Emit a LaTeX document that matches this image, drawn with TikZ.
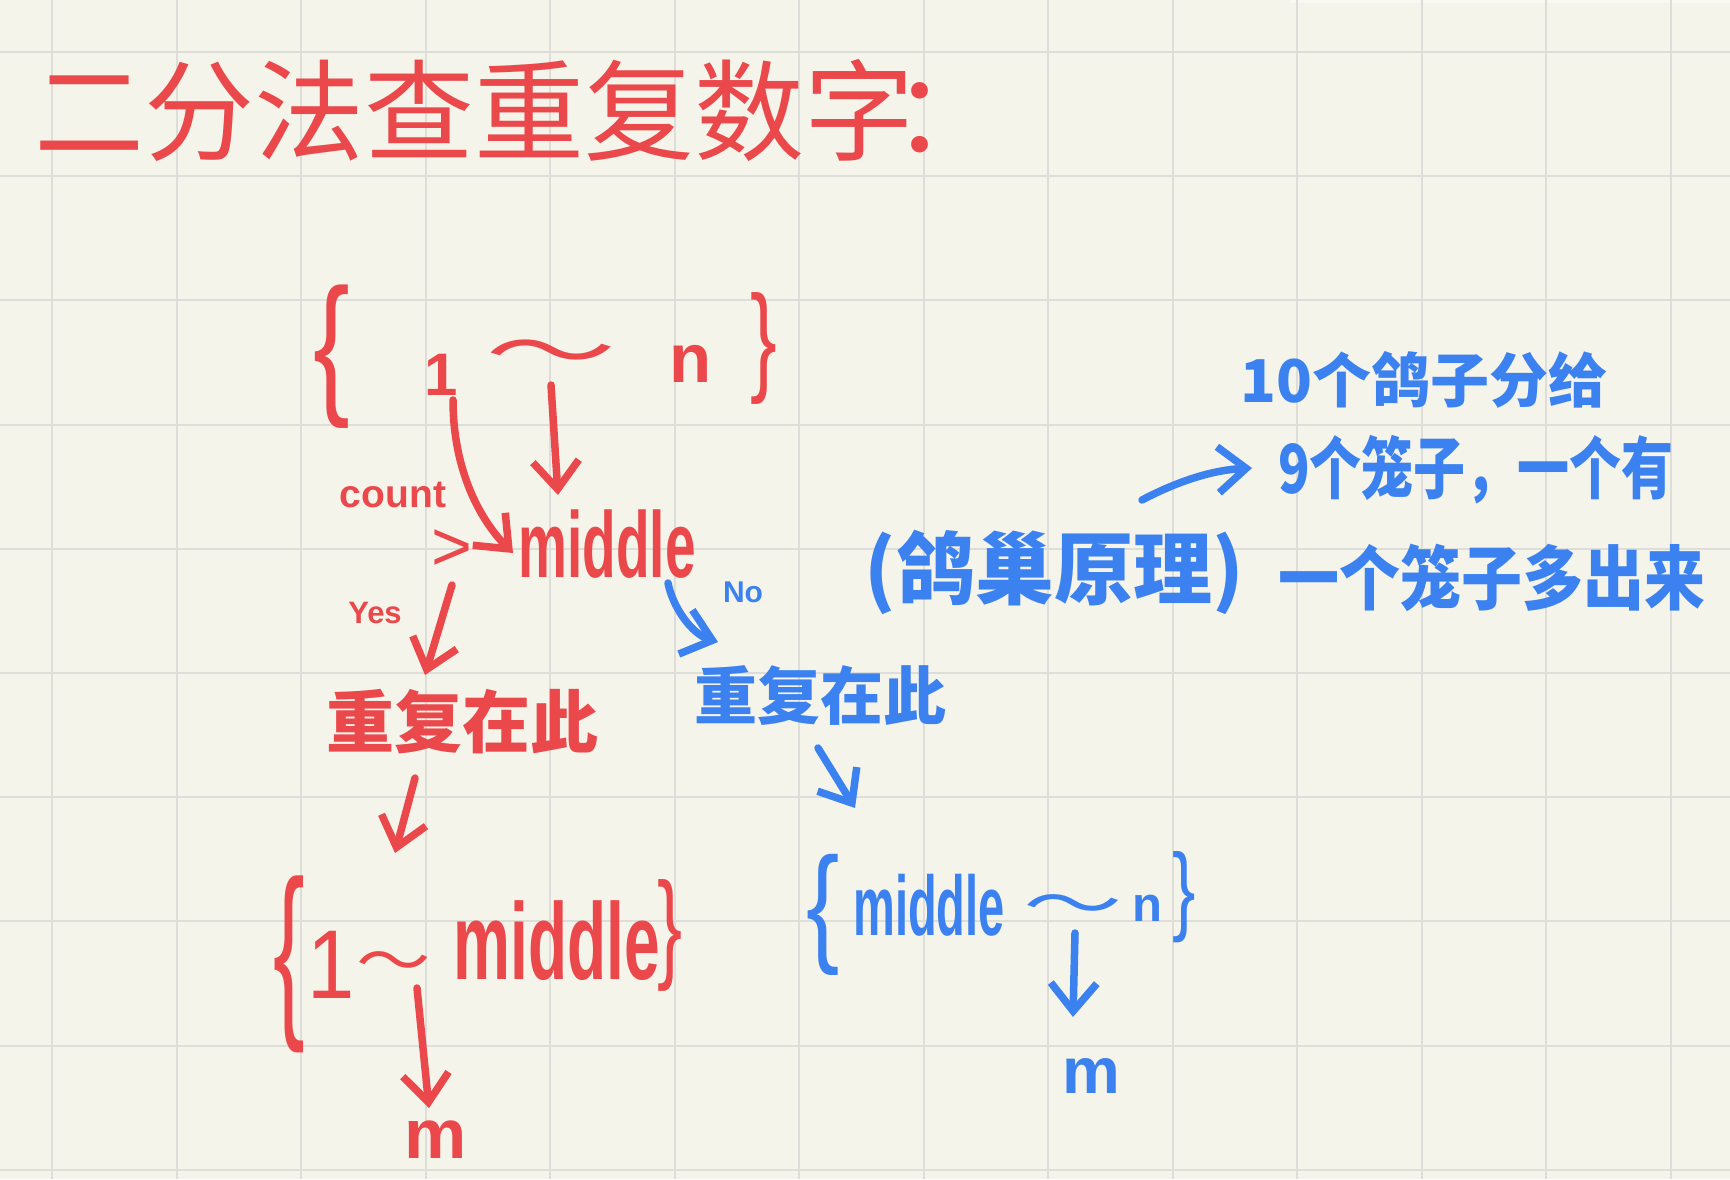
\documentclass[tikz,border=0pt]{standalone}
\usepackage{fontspec}
\setmainfont{Noto Sans CJK SC}
\newfontfamily\latin{Liberation Sans}
\usetikzlibrary{arrows.meta,calc}
\definecolor{paper}{HTML}{F5F4EB}
\definecolor{gridc}{HTML}{DDDDDA}
\definecolor{hred}{HTML}{EA484B}
\definecolor{hblue}{HTML}{3B82F0}
\newcommand{\hsz}[1]{\fontsize{#1pt}{#1pt}\selectfont}
\tikzset{
  rtxt/.style={text=hred, inner sep=0pt},
  btxt/.style={text=hblue, inner sep=0pt},
  harrow/.style={line width=7.5pt, line cap=round, line join=round,
    -{Straight Barb[length=28pt, width=46pt]}},
  rarr/.style={harrow, draw=hred},
  barr/.style={harrow, draw=hblue},
  gridline/.style={draw=gridc, line width=2pt}
}
\begin{document}
\begin{tikzpicture}[x=1pt,y=-1pt]
\fill[paper] (0,0) rectangle (1730,1179);
\useasboundingbox (0,0) rectangle (1730,1179);
\fill[white!45!paper] (1290,0) rectangle (1730,3);
\foreach \i in {0,...,13} \draw[gridline] ({52+124.54*\i},0) -- ({52+124.54*\i},1179);
\foreach \j in {0,...,9} \draw[gridline] (0,{52+124.2*\j}) -- (1730,{52+124.2*\j});

% title
\node[rtxt, font=\hsz{110}, anchor=west] (title) at (34,110) {二分法查重复数字\kern-0.2em：};

% red top set
\node[rtxt, font=\latin\hsz{110}] (lb1) at (332,357) {\scalebox{1}[1.4]{\{}};
\node[rtxt, font=\latin\bfseries\hsz{60}] (one1) at (441,375) {1};
\node[rtxt, font=\hsz{75}] (til1) at (551,359) {\scalebox{1.75}[1]{～}};
\node[rtxt, font=\latin\bfseries\hsz{69}] (n1) at (691,364) {n};
\node[rtxt, font=\latin\hsz{80}] (rb1) at (764,348) {\scalebox{1}[1.5]{\}}};
\node[rtxt, font=\latin\bfseries\hsz{55}] (mid1) at (607,544) {\scalebox{1}[1.7]{middle}};
\node[rtxt, font=\latin\bfseries\hsz{39}] (cnt) at (393,495) {count};
\node[rtxt, font=\latin\hsz{70}] (gt) at (452,550) {>};
\node[rtxt, font=\latin\bfseries\hsz{31}] (yes) at (375,613) {Yes};
\node[rtxt, font=\bfseries\hsz{68}] (dupr) at (462,722) {重复在此};

% red lower set
\node[rtxt, font=\latin\hsz{95}] (lb2) at (289,964) {\scalebox{1}[2.0]{\{}};
\node[rtxt, font=\latin\hsz{85}] (one2) at (331,965) {\scalebox{1}[1.15]{1}};
\node[rtxt, font=\hsz{62}] (til2) at (394,968) {\scalebox{1.2}[1]{～}};
\node[rtxt, font=\latin\bfseries\hsz{64}] (mid2) at (557,941) {\scalebox{1}[1.7]{middle}};
\node[rtxt, font=\latin\hsz{75}] (rb2) at (670,935) {\scalebox{1}[1.6]{\}}};
\node[rtxt, font=\latin\bfseries\hsz{70}] (m2) at (436,1140) {m};

% blue
\node[btxt, font=\latin\bfseries\hsz{30}] (no) at (743,592) {No};
\node[btxt, font=\bfseries\hsz{63}] (dupb) at (820,695) {重复在此};
\node[btxt, font=\latin\hsz{100}] (lb3) at (823,915) {\scalebox{1}[1.3]{\{}};
\node[btxt, font=\latin\bfseries\hsz{47}] (mid3) at (929,905) {\scalebox{1}[1.8]{middle}};
\node[btxt, font=\hsz{62}] (til3) at (1073,911) {\scalebox{1.6}[1]{～}};
\node[btxt, font=\latin\bfseries\hsz{49}] (n3) at (1147,908) {n};
\node[btxt, font=\latin\hsz{70}] (rb3) at (1184,897) {\scalebox{1}[1.4]{\}}};
\node[btxt, font=\latin\bfseries\hsz{65}] (m3) at (1091,1076) {m};
\node[btxt, font=\bfseries\hsz{79}] (pig) at (1054,572) {(鸽巢原理)};
\node[btxt, font=\bfseries\hsz{59}, anchor=west] (l1) at (1240,380) {10个鸽子分给};
\node[btxt, font=\bfseries\hsz{52}, anchor=west] (l2) at (1278,470) {\scalebox{1}[1.3]{9个笼子，一个有}};
\node[btxt, font=\bfseries\hsz{61}, anchor=west] (l3) at (1278,578) {\scalebox{1}[1.15]{一个笼子多出来}};

% red arrows
\draw[rarr] ($(til1)+(0,26)$) -- ($(mid1)+(-49,-49)$);
\draw[rarr] ($(one1)+(12,25)$) .. controls ($(one1)+(12,95)$) and ($(one1)+(39,145)$) .. ($(mid1)+(-94,9)$);
\draw[rarr] ($(yes)+(77,-28)$) -- ($(dupr)+(-37,-47)$);
\draw[rarr] ($(dupr)+(-47,56)$) -- ($(lb2)+(106,-111)$);
\draw[rarr] ($(til2)+(23,20)$) -- ($(m2)+(-7,-32)$);

% blue arrows
\draw[barr] ($(mid1)+(61,39)$) .. controls ($(mid1)+(66,64)$) and ($(mid1)+(85,90)$) .. ($(no)+(-25,50)$);
\draw[barr] ($(dupb)+(-2,53)$) -- ($(lb3)+(32,-107)$);
\draw[barr] ($(til3)+(2,22)$) -- ($(m3)+(-18,-59)$);
\draw[barr] ($(pig)+(88,-72)$) .. controls ($(pig)+(126,-92)$) and ($(pig)+(160,-102)$) .. ($(l2.west)+(-26,-2)$);
\end{tikzpicture}
\end{document}
